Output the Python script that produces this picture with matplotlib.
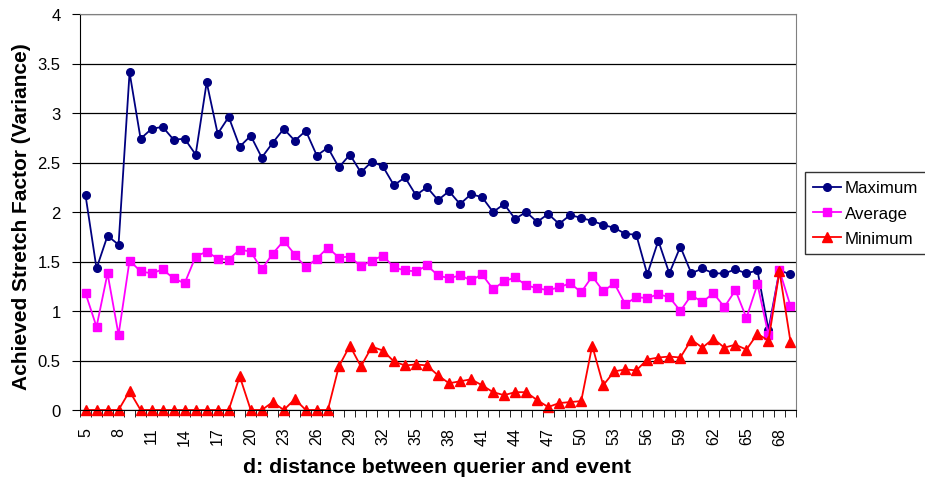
import matplotlib.pyplot as plt
import numpy as np

plt.rcParams['font.family'] = ['Liberation Sans', 'DejaVu Sans']

# distance d between querier and event
d = list(range(5, 70))

maximum = [2.17, 1.43, 1.76, 1.67, 3.41, 2.74, 2.84, 2.86, 2.73, 2.74,
           2.58, 3.31, 2.79, 2.96, 2.66, 2.77, 2.55, 2.70, 2.84, 2.72,
           2.82, 2.57, 2.65, 2.45, 2.58, 2.40, 2.51, 2.46, 2.27, 2.35,
           2.17, 2.25, 2.12, 2.21, 2.08, 2.18, 2.15, 2.00, 2.08, 1.93,
           2.00, 1.90, 1.98, 1.88, 1.97, 1.94, 1.91, 1.87, 1.84, 1.78,
           1.77, 1.37, 1.71, 1.38, 1.65, 1.38, 1.43, 1.38, 1.38, 1.42,
           1.38, 1.41, 0.81, 1.41, 1.37]

average = [1.18, 0.84, 1.38, 0.76, 1.51, 1.40, 1.38, 1.42, 1.33, 1.28,
           1.55, 1.60, 1.53, 1.52, 1.62, 1.60, 1.42, 1.58, 1.71, 1.57,
           1.44, 1.53, 1.64, 1.54, 1.55, 1.45, 1.51, 1.56, 1.44, 1.41,
           1.40, 1.46, 1.36, 1.33, 1.36, 1.31, 1.37, 1.22, 1.30, 1.34,
           1.26, 1.23, 1.21, 1.24, 1.28, 1.19, 1.35, 1.20, 1.28, 1.07,
           1.14, 1.13, 1.17, 1.14, 1.00, 1.16, 1.09, 1.18, 1.04, 1.21,
           0.93, 1.27, 0.76, 1.41, 1.05]

minimum = [0.0, 0.0, 0.0, 0.0, 0.19, 0.0, 0.0, 0.0, 0.0, 0.0,
           0.0, 0.0, 0.0, 0.0, 0.34, 0.0, 0.0, 0.08, 0.0, 0.11,
           0.0, 0.0, 0.0, 0.44, 0.65, 0.44, 0.64, 0.60, 0.49, 0.45,
           0.46, 0.45, 0.35, 0.27, 0.29, 0.31, 0.25, 0.18, 0.15, 0.18,
           0.18, 0.10, 0.03, 0.07, 0.08, 0.09, 0.65, 0.25, 0.39, 0.41,
           0.40, 0.51, 0.53, 0.54, 0.53, 0.71, 0.63, 0.72, 0.63, 0.66,
           0.61, 0.77, 0.70, 1.40, 0.69]

yticks = [0, 0.5, 1, 1.5, 2, 2.5, 3, 3.5, 4]

fig = plt.figure(figsize=(9.25, 4.81), dpi=100)
ax = fig.add_axes([80/925, 1-411/481, 716/925, 396/481])

pos = np.arange(len(d))
ax.plot(pos, maximum, color='#000080', marker='o', ms=5.5, lw=1.3, label='Maximum', clip_on=False)
ax.plot(pos, average, color='#FF00FF', marker='s', ms=5.5, lw=1.3, label='Average', clip_on=False)
ax.plot(pos, minimum, color='#FF0000', marker='^', ms=6.5, lw=1.3, label='Minimum', clip_on=False)

ax.set_xlim(-0.5, len(d) - 0.5)
ax.set_ylim(0, 4)
ax.set_yticks(yticks)
ax.set_yticklabels(['%g' % v for v in yticks], fontsize=12)
ax.grid(axis='y', color='black', lw=0.9)
ax.set_axisbelow(True)

# labels every third category, tick marks on category boundaries
ax.set_xticks(pos[::3])
ax.set_xticklabels([str(v) for v in d[::3]], rotation=90, fontsize=11.5)
ax.tick_params(axis='x', which='major', length=0, pad=12)
ax.set_xticks(np.arange(-0.5, len(d)), minor=True)
ax.tick_params(axis='x', which='minor', length=5, color='black', direction='out')
ax.tick_params(axis='y', length=6, color='black', direction='out', pad=8)

for side in ['top', 'right']:
    ax.spines[side].set_color('#808080')
for side in ['left', 'bottom']:
    ax.spines[side].set_color('black')

ax.set_ylabel('Achieved Stretch Factor (Variance)', fontsize=15, fontweight='bold')
ax.yaxis.set_label_coords(-0.069, 0.49)
ax.set_xlabel('d: distance between querier and event', fontsize=15.3, fontweight='bold')
ax.xaxis.set_label_coords(0.499, -0.118)

leg = fig.legend(loc='upper left', bbox_to_anchor=(805/925, 1-173/481), fontsize=12.2,
                 frameon=True, fancybox=False, handlelength=1.6, borderpad=0.5,
                 labelspacing=0.6, handletextpad=0.25, borderaxespad=0)
leg.get_frame().set_edgecolor('black')
leg.get_frame().set_linewidth(1)

fig.savefig('out.png', dpi=100)
